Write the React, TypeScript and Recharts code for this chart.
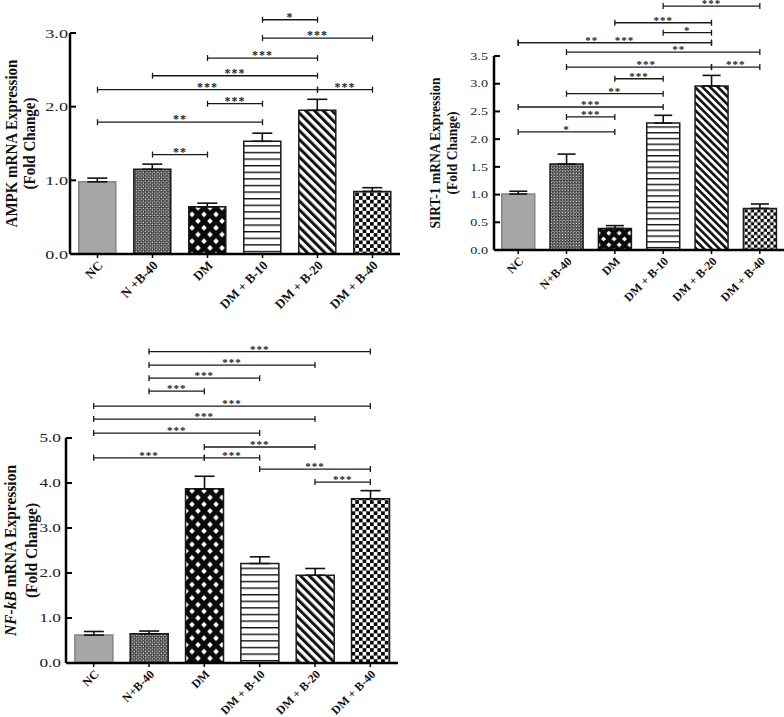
import React from 'react';
import { BarChart, Bar, XAxis, YAxis, ErrorBar, Cell, ReferenceLine } from 'recharts';

// group names as printed under each panel
const ampkLabels = ['NC', 'N +B-40', 'DM', 'DM + B-10', 'DM + B-20', 'DM + B-40'];
const groupLabels = ['NC', 'N+B-40', 'DM', 'DM + B-10', 'DM + B-20', 'DM + B-40'];

// AMPK fold change (mean, SEM)
const ampkMean = [0.98, 1.15, 0.64, 1.53, 1.95, 0.85];
const ampkErr = [0.05, 0.07, 0.05, 0.11, 0.15, 0.05];
const ampkTicks = [0, 1, 2, 3];

// SIRT-1 fold change
const sirtMean = [1.01, 1.55, 0.39, 2.29, 2.96, 0.75];
const sirtErr = [0.05, 0.18, 0.05, 0.14, 0.19, 0.08];
const sirtTicks = [0, 0.5, 1, 1.5, 2, 2.5, 3, 3.5];

// NF-kB fold change
const nfkbMean = [0.62, 0.65, 3.87, 2.21, 1.95, 3.65];
const nfkbErr = [0.08, 0.06, 0.28, 0.15, 0.15, 0.18];
const nfkbTicks = [0, 1, 2, 3, 4, 5];

// significance brackets: [from group, to group, height (fold change), stars, label position along line]
type Bracket = [number, number, number, string, number?];

const ampkBrackets: Bracket[] = [
  [3, 4, 3.18, '*'],
  [3, 5, 2.93, '***'],
  [2, 4, 2.66, '***'],
  [1, 4, 2.42, '***'],
  [0, 4, 2.23, '***'],
  [4, 5, 2.23, '***'],
  [2, 3, 2.04, '***'],
  [0, 3, 1.79, '**'],
  [1, 2, 1.35, '**'],
];

const sirtBrackets: Bracket[] = [
  [3, 5, 4.4, '***'],
  [2, 4, 4.1, '***'],
  [3, 4, 3.92, '*'],
  [0, 4, 3.74, '***', 0.55],
  [0, 4, 3.74, '**', 0.38],
  [1, 5, 3.57, '**', 0.58],
  [1, 4, 3.3, '***', 0.55],
  [4, 5, 3.3, '***'],
  [2, 3, 3.09, '***'],
  [1, 3, 2.82, '**'],
  [0, 3, 2.58, '***'],
  [1, 2, 2.4, '***'],
  [0, 2, 2.13, '*'],
];

const nfkbBrackets: Bracket[] = [
  [1, 5, 6.92, '***'],
  [1, 4, 6.62, '***'],
  [1, 3, 6.33, '***'],
  [1, 2, 6.04, '***'],
  [0, 5, 5.71, '***'],
  [0, 4, 5.42, '***'],
  [0, 3, 5.11, '***'],
  [2, 4, 4.8, '***'],
  [0, 2, 4.56, '***'],
  [2, 3, 4.56, '***'],
  [3, 5, 4.31, '***'],
  [4, 5, 4.02, '***'],
];

const SERIF = '"Liberation Serif", "Times New Roman", serif';

const Patterns = ({ id, k }: { id: string; k: number }) => {
  const dw = 12 * k, dh = 13.4 * k, r = 2.8 * k;
  const dia = (cx: number, cy: number) =>
    `${cx},${cy - r} ${cx + r},${cy} ${cx},${cy + r} ${cx - r},${cy}`;
  const c = 3.7 * k;
  return (
    <svg width={0} height={0} style={{ position: 'absolute' }}>
      <defs>
        <pattern id={`${id}-nb`} patternUnits="userSpaceOnUse" width={3.6 * k} height={3.6 * k}>
          <rect width={3.6 * k} height={3.6 * k} fill="#1c1c1c" />
          <rect x={0.5 * k} y={0.5 * k} width={1.3 * k} height={1.3 * k} fill="#e8e8e8" />
          <rect x={2.3 * k} y={2.3 * k} width={1.3 * k} height={1.3 * k} fill="#e8e8e8" />
          <rect x={2.3 * k} y={0.5 * k} width={1.3 * k} height={1.3 * k} fill="#7a7a7a" />
          <rect x={0.5 * k} y={2.3 * k} width={1.3 * k} height={1.3 * k} fill="#7a7a7a" />
        </pattern>
        <pattern id={`${id}-dm`} patternUnits="userSpaceOnUse" width={dw} height={dh}>
          <rect width={dw} height={dh} fill="#0a0a0a" />
          <polygon points={dia(dw / 2, dh / 2)} fill="#fff" />
          <polygon points={dia(0, 0)} fill="#fff" />
          <polygon points={dia(dw, 0)} fill="#fff" />
          <polygon points={dia(0, dh)} fill="#fff" />
          <polygon points={dia(dw, dh)} fill="#fff" />
        </pattern>
        <pattern id={`${id}-b10`} patternUnits="userSpaceOnUse" width={10} height={6.6 * k}>
          <rect width={10} height={6.6 * k} fill="#fff" />
          <rect y={0} width={10} height={1.4} fill="#111" />
        </pattern>
        <pattern id={`${id}-b20`} patternUnits="userSpaceOnUse" width={6.2 * k} height={6.2 * k} patternTransform="rotate(-45)">
          <rect width={6.2 * k} height={6.2 * k} fill="#fff" />
          <rect width={3 * k} height={6.2 * k} fill="#111" />
        </pattern>
        <pattern id={`${id}-b40`} patternUnits="userSpaceOnUse" width={2 * c} height={2 * c}>
          <rect width={2 * c} height={2 * c} fill="#fff" />
          <rect width={c} height={c} fill="#0a0a0a" />
          <rect x={c} y={c} width={c} height={c} fill="#0a0a0a" />
        </pattern>
      </defs>
    </svg>
  );
};

const XTick = (p: any) => {
  const { x, y, payload, size } = p;
  const ax = x + 3, ay = y + 3;
  return (
    <text
      x={ax}
      y={ay}
      dy="0.35em"
      transform={`rotate(-45, ${ax}, ${ay})`}
      textAnchor="end"
      fontFamily={SERIF}
      fontWeight="bold"
      fontSize={size}
      fill="#111"
    >
      {payload.value}
    </text>
  );
};

const YTick = (p: any) => {
  const { x, y, payload, size, sx, gap } = p;
  return (
    <g>
      <line x1={x + gap} x2={x + gap + 6} y1={y} y2={y} stroke="#000" strokeWidth={2} />
      <g transform={`translate(${x},${y}) scale(${sx},1)`}>
        <text x={0} y={0} dy="0.35em" textAnchor="end" fontFamily={SERIF} fontSize={size} fill="#222">
          {Number(payload.value).toFixed(1)}
        </text>
      </g>
    </g>
  );
};

const YTitle = ({ xs, cy, size, first }: any) => (
  <g fontFamily={SERIF} fontWeight="bold" fontSize={size} fill="#111">
    <g transform={`translate(${xs[0]},${cy}) scale(1.1,1) rotate(-90)`}>
      <text x={0} y={0} dy="0.3em" textAnchor="middle">{first}</text>
    </g>
    <g transform={`translate(${xs[1]},${cy}) scale(1.1,1) rotate(-90)`}>
      <text x={0} y={0} dy="0.3em" textAnchor="middle">(Fold Change)</text>
    </g>
  </g>
);

const bracketShape = (stars: string, at: number, size: number) => (p: any) => {
  const { x1, y1, x2 } = p;
  const xl = Math.min(x1, x2), xr = Math.max(x1, x2);
  return (
    <g>
      <line x1={xl} x2={xr} y1={y1} y2={y1} stroke="#1a1a1a" strokeWidth={1.3} />
      <line x1={xl} x2={xl} y1={y1 - 3} y2={y1 + 3} stroke="#1a1a1a" strokeWidth={1.3} />
      <line x1={xr} x2={xr} y1={y1 - 3} y2={y1 + 3} stroke="#1a1a1a" strokeWidth={1.3} />
      <text
        x={xl + (xr - xl) * at}
        y={y1 + 1}
        textAnchor="middle"
        fontFamily={SERIF}
        fontWeight="bold"
        fontSize={size}
        letterSpacing={1}
        fill="#222"
      >
        {stars}
      </text>
    </g>
  );
};

interface PanelProps {
  id: string;
  labels: string[];
  mean: number[];
  err: number[];
  ticks: number[];
  brackets: Bracket[];
  first: React.ReactNode;
  left: number;
  top: number;
  width: number;
  height: number;
  margin: { top: number; right: number; left: number; bottom: number };
  xHeight: number;
  k: number;
  cap: number;
  xFont: number;
  yFont: number;
  ySx: number;
  yGap: number;
  titleXs: number[];
  titleSize: number;
  starSize: number;
}

const Panel = (pp: PanelProps) => {
  const data = pp.labels.map((g, i) => ({ group: g, mean: pp.mean[i], err: [0, pp.err[i]] }));
  const fills = ['#a6a6a6', `url(#${pp.id}-nb)`, `url(#${pp.id}-dm)`, `url(#${pp.id}-b10)`, `url(#${pp.id}-b20)`, `url(#${pp.id}-b40)`];
  const plotTop = pp.margin.top;
  const plotBottom = pp.height - pp.margin.bottom - pp.xHeight;
  return (
    <div style={{ position: 'absolute', left: pp.left, top: pp.top, width: pp.width, height: pp.height }}>
      <Patterns id={pp.id} k={pp.k} />
      <BarChart width={pp.width} height={pp.height} data={data} margin={pp.margin} barCategoryGap="16%">
        <XAxis
          dataKey="group"
          interval={0}
          height={pp.xHeight}
          tickSize={4}
          tickLine={{ stroke: '#000', strokeWidth: 1.5 }}
          axisLine={{ stroke: '#000', strokeWidth: 2.5 }}
          tick={(p: any) => <XTick {...p} size={pp.xFont} />}
        />
        <YAxis
          width={40}
          domain={[0, pp.ticks[pp.ticks.length - 1]]}
          ticks={pp.ticks}
          tickSize={0}
          tickMargin={pp.yGap}
          axisLine={{ stroke: '#000', strokeWidth: 2.5 }}
          tick={(p: any) => <YTick {...p} size={pp.yFont} sx={pp.ySx} gap={pp.yGap} />}
          label={<YTitle xs={pp.titleXs} cy={(plotTop + plotBottom) / 2} size={pp.titleSize} first={pp.first} />}
        />
        <Bar dataKey="mean" isAnimationActive={false} strokeWidth={1.5}>
          {data.map((d, i) => (
            <Cell key={d.group} fill={fills[i]} stroke={i === 0 ? '#858585' : '#1a1a1a'} />
          ))}
          <ErrorBar dataKey="err" direction="y" width={pp.cap} stroke="#111" strokeWidth={1.6} isAnimationActive={false} />
        </Bar>
        {pp.brackets.map(([a, b, lvl, stars, at], i) => (
          <ReferenceLine
            key={`br-${i}`}
            ifOverflow="visible"
            segment={[{ x: pp.labels[a], y: lvl }, { x: pp.labels[b], y: lvl }]}
            shape={bracketShape(stars, at ?? 0.5, pp.starSize)}
          />
        ))}
      </BarChart>
    </div>
  );
};

export default function App() {
  return (
    <div style={{ position: 'absolute', left: 0, top: 0, width: 784, height: 717, background: '#fff', overflow: 'hidden' }}>
      <Panel
        id="ampk"
        labels={ampkLabels}
        mean={ampkMean}
        err={ampkErr}
        ticks={ampkTicks}
        brackets={ampkBrackets}
        first="AMPK mRNA Expression"
        left={0}
        top={0}
        width={410}
        height={330}
        margin={{ top: 33, right: 10, left: 30, bottom: 6 }}
        xHeight={70}
        k={1}
        cap={10}
        xFont={13}
        yFont={13}
        ySx={1.4}
        yGap={2}
        titleXs={[12, 30]}
        titleSize={15}
        starSize={12}
      />
      <Panel
        id="sirt"
        labels={groupLabels}
        mean={sirtMean}
        err={sirtErr}
        ticks={sirtTicks}
        brackets={sirtBrackets}
        first="SIRT-1 mRNA Expression"
        left={400}
        top={0}
        width={384}
        height={330}
        margin={{ top: 56, right: 0, left: 54, bottom: 10 }}
        xHeight={70}
        k={0.87}
        cap={9}
        xFont={12}
        yFont={10.5}
        ySx={1.35}
        yGap={6}
        titleXs={[36, 53]}
        titleSize={13.5}
        starSize={11}
      />
      <Panel
        id="nfkb"
        labels={groupLabels}
        mean={nfkbMean}
        err={nfkbErr}
        ticks={nfkbTicks}
        brackets={nfkbBrackets}
        first={
          <>
            <tspan fontStyle="italic">NF-kB</tspan> mRNA Expression
          </>
        }
        left={0}
        top={330}
        width={410}
        height={387}
        margin={{ top: 108, right: 12, left: 26, bottom: 0 }}
        xHeight={54}
        k={1}
        cap={10}
        xFont={12}
        yFont={11.5}
        ySx={1.5}
        yGap={5}
        titleXs={[11, 32]}
        titleSize={15.5}
        starSize={11}
      />
    </div>
  );
}
